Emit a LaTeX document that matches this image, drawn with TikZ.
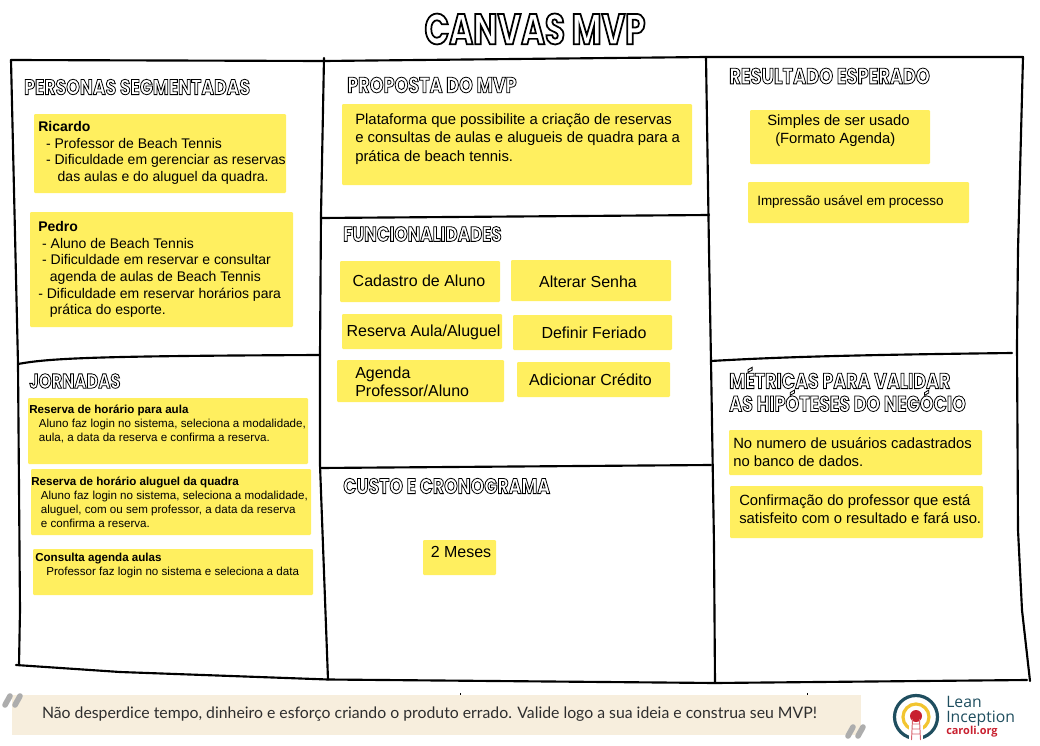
\documentclass[tikz,border=0pt]{standalone}
\usepackage{fontspec}
\setmainfont{Liberation Sans}
\newfontfamily\headfont{Poppins}[FakeStretch=0.8]
\newfontfamily\titlefont{Poppins}[FakeStretch=0.75]
\newfontfamily\quotefont{Lato}
\newfontfamily\logofont{Open Sans}
\definecolor{sticky}{HTML}{FFEF5F}
\definecolor{band}{HTML}{F7EEDD}
\definecolor{logoteal}{HTML}{1F4E5F}
\definecolor{logored}{HTML}{C8202F}
\definecolor{logoyel}{HTML}{F2C530}
\newcommand{\outl}[2]{\special{pdf:code q 2 Tr #1 w 0 0 0 RG}#2\special{pdf:code Q}}
\tikzset{
 frame/.style={line width=1.6pt,black,line cap=round,line join=round},
 note/.style={fill=sticky,draw=none,rounded corners=0.8pt},
 ntext/.style 2 args={anchor=north west,inner sep=0pt,align=left,font=\fontsize{#1}{#2}\selectfont,text=black},
 head/.style={anchor=west,inner sep=0pt,text=white,font=\fontsize{#1}{20}\selectfont\bfseries\headfont},
 quotemark/.style={line width=4.2pt,line cap=round,black!32},
}
\begin{document}
\begin{tikzpicture}[x=0.75pt,y=-0.75pt]
\useasboundingbox (0,0) rectangle (1040,746);
% frame
\coordinate (tl) at (11,60);\coordinate (tm1) at (324,61);\coordinate (tm2) at (706,57);\coordinate (tr) at (1023,57);
\coordinate (bl) at (16,665);\coordinate (bm1) at (328,679.5);\coordinate (bm2) at (715,683);\coordinate (br) at (1027,680);
\coordinate (ml) at (18,364);\coordinate (mm) at (320,355);\coordinate (mr) at (711,361);\coordinate (mre) at (1012,353);
\draw[frame] (tl) -- (tm1) -- (tm2) -- (tr) -- (1018,250) -- (1017,345) -- (1018,530) -- (1022,610) -- (1030,681);
\draw[frame] (tl) -- (ml) -- (20,610) -- (19,665);
\draw[frame] (bl) -- (120,672) -- (bm1) -- (bm2) -- (br);
\draw[frame] (324,58) -- (321,215) -- (mm) -- (320,465) -- (bm1);
\draw[frame] (tm2) -- (709,250) -- (mr) -- (714,545) -- (bm2);
\draw[frame] (ml) .. controls (50,358) and (100,356) .. (mm);
\draw[frame] (mr) .. controls (780,357) and (850,355) .. (mre);
\draw[frame] (321,218) -- (709,215);
\draw[frame] (320,468) -- (711,465);
% title
\node[anchor=center,inner sep=0pt,text=white,font=\fontsize{32.4}{36}\selectfont\bfseries\titlefont] (title) at (535,29) {\outl{1.3}{CANVAS MVP}};
% headings
\node[head=16.2] (h1) at (24,87) {\outl{0.6}{PERSONAS SEGMENTADAS}};
\node[head=16.5] (h2) at (347,85) {\outl{0.6}{PROPOSTA DO MVP}};
\node[head=16.7] (h3) at (729,76) {\outl{0.6}{RESULTADO ESPERADO}};
\node[head=15.7] (h4) at (343,234) {\outl{0.6}{FUNCIONALIDADES}};
\node[head=15.3] (h5) at (29,381) {\outl{0.6}{JORNADAS}};
\node[head=16.2] (h6) at (343,486) {\outl{0.6}{CUSTO E CRONOGRAMA}};
\node[head=16.4,align=left,anchor=north west,font=\fontsize{16.4}{15.2}\selectfont\bfseries\headfont] (h7) at (729,367) {\outl{0.6}{MÉTRICAS PARA VALIDAR}\\\outl{0.6}{AS HIPÓTESES DO NEGÓCIO}};
% notes
\fill[note] (34,114) rectangle (286,193);
\node[ntext={10.5}{12.4}] (n1) at (38,121.5) {\textbf{Ricardo}\\\ \ - Professor de Beach Tennis\\\ \ - Dificuldade em gerenciar as reservas\\\ \ \ \ \ das aulas e do aluguel da quadra.};
\fill[note] (30,212) rectangle (293,327);
\node[ntext={10.5}{12.4}] (n2) at (38,221.5) {\textbf{Pedro}\\\ - Aluno de Beach Tennis\\\ - Dificuldade em reservar e consultar\\\ \ \ agenda de aulas de Beach Tennis\\- Dificuldade em reservar horários para\\\ \ \ prática do esporte.};
\fill[note] (28,398) rectangle (308,464);
\node[ntext={8.7}{10.5}] (n3) at (29,405) {\textbf{Reserva de horário para aula}\\\ \ \ Aluno faz login no sistema, seleciona a modalidade,\\\ \ \ aula, a data da reserva e confirma a reserva.};
\fill[note] (31,469) rectangle (311,535);
\node[ntext={8.7}{10.5}] (n4) at (31,476.5) {\textbf{Reserva de horário aluguel da quadra}\\\ \ \ Aluno faz login no sistema, seleciona a modalidade,\\\ \ \ aluguel, com ou sem professor, a data da reserva\\\ \ \ e confirma a reserva.};
\fill[note] (33,549) rectangle (313,595);
\node[ntext={8.7}{10.5}] (n5) at (35,553) {\textbf{Consulta agenda aulas}\\\ \ \ \hspace{1pt}Professor faz login no sistema e seleciona a data};
\fill[note] (342,104) rectangle (692,185);
\node[ntext={11.15}{13.9}] (n6) at (355,113) {Plataforma que possibilite a criação de reservas\\e consultas de aulas e alugueis de quadra para a\\prática de beach tennis.};
\fill[note] (340,261) rectangle (500,302);
\node[ntext={12}{14},anchor=center] (n7) at (419,281) {Cadastro de Aluno};
\fill[note] (511,260) rectangle (671,301);
\node[ntext={12}{14},anchor=center] (n8) at (588,282) {Alterar Senha};
\fill[note] (342,314) rectangle (502,349);
\node[ntext={12}{14},anchor=center] (n9) at (423.5,332) {Reserva Aula/Aluguel};
\fill[note] (513,315) rectangle (672,350);
\node[ntext={12}{14},anchor=center] (n10) at (594,333) {Definir Feriado};
\fill[note] (337,360) rectangle (504,402);
\node[ntext={12}{13.5}] (n11) at (355,367) {Agenda\\Professor/Aluno};
\fill[note] (517,362) rectangle (670,397);
\node[ntext={12}{14},anchor=center] (n12) at (590.5,380) {Adicionar Crédito};
\fill[note] (423,540) rectangle (496,575);
\node[ntext={12}{14},anchor=center] (n13) at (461,552) {2 Meses};
\fill[note] (750,110) rectangle (930,164);
\node[ntext={11.1}{13.5}] (n14) at (767,115) {Simples de ser usado\\\hspace{6pt}(Formato Agenda)};
\fill[note] (748,182) rectangle (969,223);
\node[ntext={10.1}{12},anchor=west] (n15) at (757,202) {Impressão usável em processo};
\fill[note] (729,430) rectangle (982,475);
\node[ntext={11.1}{13.5}] (n16) at (733,437.5) {No numero de usuários cadastrados\\no banco de dados.};
\fill[note] (730,486) rectangle (983,538);
\node[ntext={11.1}{13.5}] (n17) at (739,494.5) {Confirmação do professor que está\\satisfeito com o resultado e fará uso.};
% footer
\fill[band] (12,695) rectangle (861,735);
\node[anchor=center,inner sep=0pt,font=\fontsize{11.85}{13}\selectfont\quotefont,text=black!82] (foot) at (429.5,714) {Não desperdice tempo, dinheiro e esforço criando o produto errado. Valide logo a sua ideia e construa seu MVP!};
\draw[black,line width=.5pt] (460,693) -- (460,695);
\draw[black,line width=.5pt] (807,693) -- (807,695);
% quote marks
\draw[quotemark] (5,705) -- (10,696) (15,705) -- (20,696);
\draw[quotemark] (848,736) -- (853,727) (858,736) -- (863,727);
% logo
\draw[logoteal,line width=2.4pt] (916,717) circle (21.5);
\draw[logoyel,line width=2.4pt] (916,717) circle (13);
\fill[white] (909,722) rectangle (923,744);
\fill[logored] (916,716) circle (6);
\draw[logored!70,line width=.7pt] (912.5,719) -- (911.5,740) (919.5,719) -- (920.5,740) (912.3,724) -- (919.7,724) (912,729) -- (920,729) (911.8,734) -- (920.2,734);
\node[anchor=north west,inner sep=0pt,align=left,text=logoteal,font=\fontsize{11.8}{11.4}\selectfont\logofont] (logo) at (946,696) {Lean\\Inception};
\node[anchor=north west,inner sep=0pt,text=logored,font=\fontsize{8.2}{10}\selectfont\bfseries\logofont] (logo2) at (946,726) {caroli.org};
\end{tikzpicture}
\end{document}
